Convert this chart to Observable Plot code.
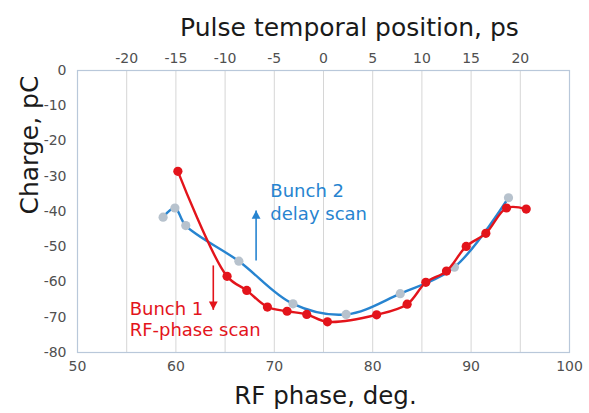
<!DOCTYPE html>
<html>
<head>
<meta charset="utf-8">
<script src="https://cdn.jsdelivr.net/npm/d3@7"></script>
<script src="https://cdn.jsdelivr.net/npm/@observablehq/plot@0.6"></script>
<style>
  html, body { margin: 0; padding: 0; background: #ffffff; }
  #chart { width: 589px; height: 413px; }
</style>
</head>
<body>
<div id="chart"></div>
<script>
// ---- Data ----
// Bunch 1, RF-phase scan (red)
const redPhase  = [60.2, 65.2, 67.2, 69.3, 71.3, 73.3, 75.4, 80.4, 83.5, 85.4, 87.5, 89.5, 91.5, 93.6, 95.6];
const redCharge = [-28.6, -58.4, -62.4, -67.1, -68.3, -69.2, -71.3, -69.3, -66.3, -60.1, -56.9, -49.9, -46.2, -39.0, -39.3];
// Bunch 2, delay scan (blue line, grey markers)
const bluePhase  = [58.7, 59.9, 61.0, 66.4, 71.9, 77.3, 82.8, 88.3, 93.8];
const blueCharge = [-41.6, -39.0, -44.0, -54.1, -66.2, -69.2, -63.3, -55.8, -36.1];

// Axis ticks
const bottomTicks = [50, 60, 70, 80, 90, 100];          // RF phase, deg.
const gridTicks   = [55, 60, 65, 70, 75, 80, 85, 90, 95];
const topTickPs   = [-20, -15, -10, -5, 0, 5, 10, 15, 20]; // pulse position, ps
const psZeroPhase = 75;                                     // 0 ps sits at 75 deg
const yTicks      = [0, -10, -20, -30, -40, -50, -60, -70, -80];

// Titles
const topTitle    = "Pulse temporal position, ps";
const bottomTitle = "RF phase, deg.";
const leftTitle   = "Charge, pC";

// Annotations (data coordinates)
const blueNote = {x: 69.6, y: -42.5, text: "Bunch 2\ndelay scan"};
const redNote  = {x: 55.3, y: -75.4, text: "Bunch 1\nRF-phase scan"};
const blueArrow = {x: 68.15, from: -53.9, tip: -39.7};
const redArrow  = {x: 63.8,  from: -55.3, tip: -67.9};

// ---- Styles ----
const RED = "#e3141b";
const BLUE = "#2784d0";
const GREY_DOT = "#b7c2cd";
const TICK = "#505050";

const red = redPhase.map((x, i) => ({x, y: redCharge[i]}));
const blue = bluePhase.map((x, i) => ({x, y: blueCharge[i]}));
const topTicks = topTickPs.map(p => p + psZeroPhase);

// Triangle symbols whose tip sits at the anchor point
const triUp = {draw(ctx, size) { const s = Math.sqrt(size); const w = s * 0.78, h = s * 1.45;
  ctx.moveTo(0, 0); ctx.lineTo(-w, h); ctx.lineTo(w, h); ctx.closePath(); }};
const triDown = {draw(ctx, size) { const s = Math.sqrt(size); const w = s * 0.78, h = s * 1.45;
  ctx.moveTo(0, 0); ctx.lineTo(-w, -h); ctx.lineTo(w, -h); ctx.closePath(); }};

const chart = Plot.plot({
  width: 589,
  height: 413,
  marginLeft: 77,
  marginRight: 20,
  marginTop: 70,
  marginBottom: 61,
  style: {fontFamily: "'DejaVu Sans', Verdana, sans-serif", background: "#ffffff"},
  x: {domain: [50, 100]},
  y: {domain: [-80, 0]},
  marks: [
    Plot.gridX(gridTicks, {stroke: "#d6d6d6", strokeOpacity: 1, strokeWidth: 1}),
    Plot.frame({stroke: "#b9c8da", strokeWidth: 1.2}),
    Plot.axisX(bottomTicks, {anchor: "bottom", tickSize: 0, tickPadding: 9, fontSize: 14, fill: TICK, label: null, tickFormat: d => String(d)}),
    Plot.axisX(topTicks, {anchor: "top", tickSize: 0, tickPadding: 8, fontSize: 14, fill: TICK, label: null, tickFormat: d => String(d - psZeroPhase)}),
    Plot.axisY(yTicks, {anchor: "left", tickSize: 0, tickPadding: 11, fontSize: 14, fill: TICK, label: null, tickFormat: d => String(d)}),
    // titles
    Plot.text([topTitle], {frameAnchor: "top", dx: 26, dy: -35, lineAnchor: "bottom", fontSize: 25, fill: "#1a1a1a"}),
    Plot.text([bottomTitle], {frameAnchor: "bottom", dx: 2, dy: 51, lineAnchor: "bottom", fontSize: 24.5, fill: "#1a1a1a"}),
    Plot.text([leftTitle], {frameAnchor: "left", dx: -40, dy: 3, rotate: -90, lineAnchor: "bottom", fontSize: 25, fill: "#1a1a1a"}),
    // Bunch 2 (blue)
    Plot.line(blue, {x: "x", y: "y", stroke: BLUE, strokeWidth: 2.4, curve: "catmull-rom"}),
    Plot.dot(blue, {x: "x", y: "y", r: 4.6, fill: GREY_DOT, stroke: "none"}),
    // Bunch 1 (red)
    Plot.line(red, {x: "x", y: "y", stroke: RED, strokeWidth: 2.4, curve: "catmull-rom"}),
    Plot.dot(red, {x: "x", y: "y", r: 4.6, fill: RED, stroke: "none"}),
    // arrows
    Plot.link([blueArrow], {x1: "x", x2: "x", y1: "from", y2: "tip", stroke: BLUE, strokeWidth: 1.6}),
    Plot.dot([blueArrow], {x: "x", y: "tip", symbol: triUp, r: 3.2, fill: BLUE, stroke: "none"}),
    Plot.link([redArrow], {x1: "x", x2: "x", y1: "from", y2: "tip", stroke: RED, strokeWidth: 1.6}),
    Plot.dot([redArrow], {x: "x", y: "tip", symbol: triDown, r: 3.2, fill: RED, stroke: "none"}),
    // annotation text
    Plot.text([blueNote], {x: "x", y: "y", text: "text", textAnchor: "start", lineAnchor: "bottom", lineHeight: 1.3, fontSize: 18, fill: BLUE}),
    Plot.text([redNote], {x: "x", y: "y", text: "text", textAnchor: "start", lineAnchor: "bottom", lineHeight: 1.2, fontSize: 18, fill: RED})
  ]
});
document.getElementById("chart").appendChild(chart);
</script>
</body>
</html>
